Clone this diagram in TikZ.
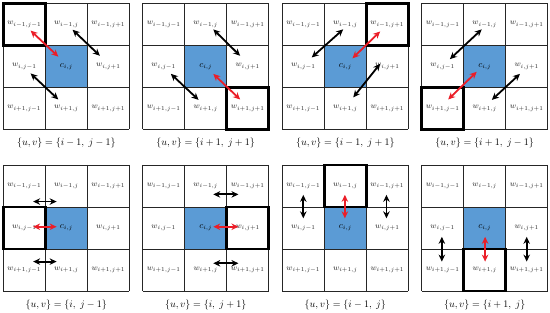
\documentclass[tikz,border=0pt]{standalone}
\usetikzlibrary{arrows.meta}
\definecolor{cellblue}{RGB}{91,155,213}
\definecolor{arrred}{RGB}{235,30,40}
\tikzset{
  gridline/.style={draw=black!85, line width=0.8pt},
  hilite/.style={draw=black, line width=2.8pt},
  lab/.style={font=\footnotesize, text=black!85, inner sep=0pt},
  clab/.style={font=\small, text=black, inner sep=0pt},
  captxt/.style={font=\normalsize, inner sep=0pt},
  dbl/.style={{Stealth[length=7pt,width=6.5pt]}-{Stealth[length=7pt,width=6.5pt]}, line width=1.8pt},
  blk/.style={dbl, draw=black},
  rd/.style={dbl, draw=arrred},
}
% #1 name, #2 x(pt), #3 y(pt), #4 hl row, #5 hl col, #6 caption, #7 arrows
\newcommand\cellgrid[7]{%
  \begin{scope}[shift={(#2pt,-#3pt)}, x=42pt, y=-42pt]
    \fill[cellblue] (1,1) rectangle (2,2);
    \foreach \k in {0,1,2,3} {\draw[gridline] (\k,0) -- (\k,3); \draw[gridline] (0,\k) -- (3,\k);}
    \node[lab] (#1-00) at (0.5,0.5) {$w_{i-1,j-1}$};
    \node[lab] (#1-01) at (1.5,0.5) {$w_{i-1,j}$};
    \node[lab] (#1-02) at (2.5,0.5) {$w_{i-1,j+1}$};
    \node[lab] (#1-10) at (0.5,1.5) {$w_{i,j-1}$};
    \node[clab] (#1-11) at (1.5,1.5) {$c_{i,j}$};
    \node[lab] (#1-12) at (2.5,1.5) {$w_{i,j+1}$};
    \node[lab] (#1-20) at (0.5,2.5) {$w_{i+1,j-1}$};
    \node[lab] (#1-21) at (1.5,2.5) {$w_{i+1,j}$};
    \node[lab] (#1-22) at (2.5,2.5) {$w_{i+1,j+1}$};
    \draw[hilite] (#5,#4) rectangle ++(1,1);
    #7
    \node[captxt] (#1-cap) at (1.5,3.33) {#6};
  \end{scope}}
\begin{document}
\begin{tikzpicture}[x=1pt, y=-1pt]
  \useasboundingbox (0,0) rectangle (550,313);
  \cellgrid{ga}{3.3}{3.3}{0}{0}{$\{u,v\}=\{i-1,\; j-1\}$}{%
    \draw[rd] (0.65,0.65) -- (1.31,1.27);
    \draw[blk] (1.65,0.63) -- (2.3,1.25);
    \draw[blk] (0.65,1.67) -- (1.31,2.29);}
  \cellgrid{gb}{142.7}{3.3}{2}{2}{$\{u,v\}=\{i+1,\; j+1\}$}{%
    \draw[blk] (1.68,0.62) -- (2.32,1.25);
    \draw[blk] (0.67,1.68) -- (1.33,2.3);
    \draw[rd] (1.68,1.68) -- (2.32,2.29);}
  \cellgrid{gc}{282.3}{3.3}{0}{2}{$\{u,v\}=\{i-1,\; j+1\}$}{%
    \draw[rd] (2.33,0.67) -- (1.67,1.31);
    \draw[blk] (1.45,0.62) -- (0.7,1.29);
    \draw[blk] (2.33,1.44) -- (1.69,2.24);}
  \cellgrid{gd}{421.7}{3.3}{2}{0}{$\{u,v\}=\{i+1,\; j-1\}$}{%
    \draw[blk] (1.43,0.62) -- (0.67,1.33);
    \draw[rd] (1.31,1.63) -- (0.63,2.29);
    \draw[blk] (2.34,1.68) -- (1.67,2.3);}
  \cellgrid{ge}{3.3}{165}{1}{0}{$\{u,v\}=\{i,\; j-1\}$}{%
    \draw[blk] (0.71,0.87) -- (1.27,0.87);
    \draw[rd] (0.71,1.47) -- (1.27,1.47);
    \draw[blk] (0.71,2.3) -- (1.27,2.3);}
  \cellgrid{gf}{142.7}{165}{1}{2}{$\{u,v\}=\{i,\; j+1\}$}{%
    \draw[blk] (1.68,0.7) -- (2.28,0.7);
    \draw[rd] (1.68,1.47) -- (2.28,1.47);
    \draw[blk] (1.68,2.34) -- (2.28,2.34);}
  \cellgrid{gg}{282.3}{165}{0}{1}{$\{u,v\}=\{i-1,\; j\}$}{%
    \draw[blk] (0.5,0.71) -- (0.5,1.27);
    \draw[rd] (1.49,0.71) -- (1.49,1.27);
    \draw[blk] (2.48,0.71) -- (2.48,1.27);}
  \cellgrid{gh}{421.7}{165}{2}{1}{$\{u,v\}=\{i+1,\; j\}$}{%
    \draw[blk] (0.48,1.71) -- (0.48,2.3);
    \draw[rd] (1.51,1.71) -- (1.51,2.3);
    \draw[blk] (2.5,1.71) -- (2.5,2.3);}
\end{tikzpicture}
\end{document}
